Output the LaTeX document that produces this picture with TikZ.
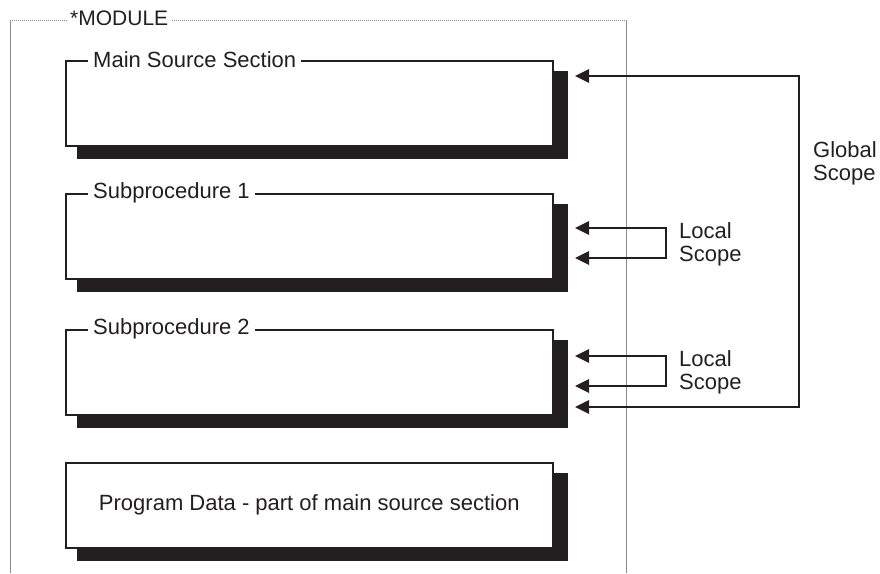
\documentclass[tikz,border=0pt]{standalone}
\usepackage{fontspec}
\setmainfont{Liberation Sans}
\usetikzlibrary{arrows.meta,calc,backgrounds}
\definecolor{ink}{HTML}{231F20}
\definecolor{framegray}{HTML}{8C8C8C}
\begin{document}
\begin{tikzpicture}[x=1pt,y=-1pt,
  font=\fontsize{22}{23}\selectfont,
  every node/.style={text=ink},
  section/.style={draw=ink, line width=1.6pt, fill=white, inner sep=0pt,
    anchor=north west, minimum width=487pt, minimum height=85pt},
  shadowfill/.style={fill=ink},
  title/.style={fill=white, inner xsep=5pt, inner ysep=2pt, anchor=west},
  scopeline/.style={draw=ink, line width=2.8pt, line join=miter,
    {Triangle[length=14pt,width=13pt]}-{Triangle[length=14pt,width=13pt]}},
  frame/.style={draw=framegray, line width=1pt},
  caption/.style={align=left, anchor=west, inner sep=0pt}
]
\useasboundingbox (0,0) rectangle (880,573);

% module frame
\draw[frame] (10,573) -- (10,20);
\draw[frame, dash pattern=on 1pt off 1pt] (10,20) -- (626,20);
\draw[frame] (626,20) -- (626,573);
\node[fill=white, inner xsep=3pt, inner ysep=1pt, anchor=west,
  font=\fontsize{21}{23}\selectfont] (mod) at (67,18) {*MODULE};

% sections
\node[section] (main) at (65,60) {};
\node[section] (sub1) at (65,193) {};
\node[section] (sub2) at (65,329) {};
\node[section] (data) at (65,462) {Program Data - part of main source section};

% drop shadows
\begin{scope}[on background layer]
  \foreach \b in {main,sub1,sub2,data}
    \fill[shadowfill] ($(\b.north west)+(12,11)$) rectangle ($(\b.south east)+(14,12)$);
\end{scope}

% section titles
\node[title] (maint) at (88,60) {Main Source Section\hspace{4pt}};
\node[title] (sub1t) at (88,193) {Subprocedure 1\hspace{3pt}};
\node[title] (sub2t) at (88,329) {Subprocedure 2\hspace{3pt}};

% scope connectors
\coordinate (gtop) at (575,76);
\coordinate (gbot) at (575,407);
\coordinate (gright) at (799,76);
\draw[scopeline] (gbot) -| (gright) -- (gtop);

\coordinate (a1) at (575,228);
\coordinate (b1) at (575,258);
\coordinate (r1) at (666,228);
\draw[scopeline] (a1) -- (r1) |- (b1);

\coordinate (a2) at (575,356);
\coordinate (b2) at (575,386);
\coordinate (r2) at (666,356);
\draw[scopeline] (a2) -- (r2) |- (b2);

% scope labels
\node[caption] (glob) at (813,163) {Global\\Scope};
\node[caption] (loc1) at (679,244) {Local\\Scope};
\node[caption] (loc2) at (679,372) {Local\\Scope};
\end{tikzpicture}
\end{document}
